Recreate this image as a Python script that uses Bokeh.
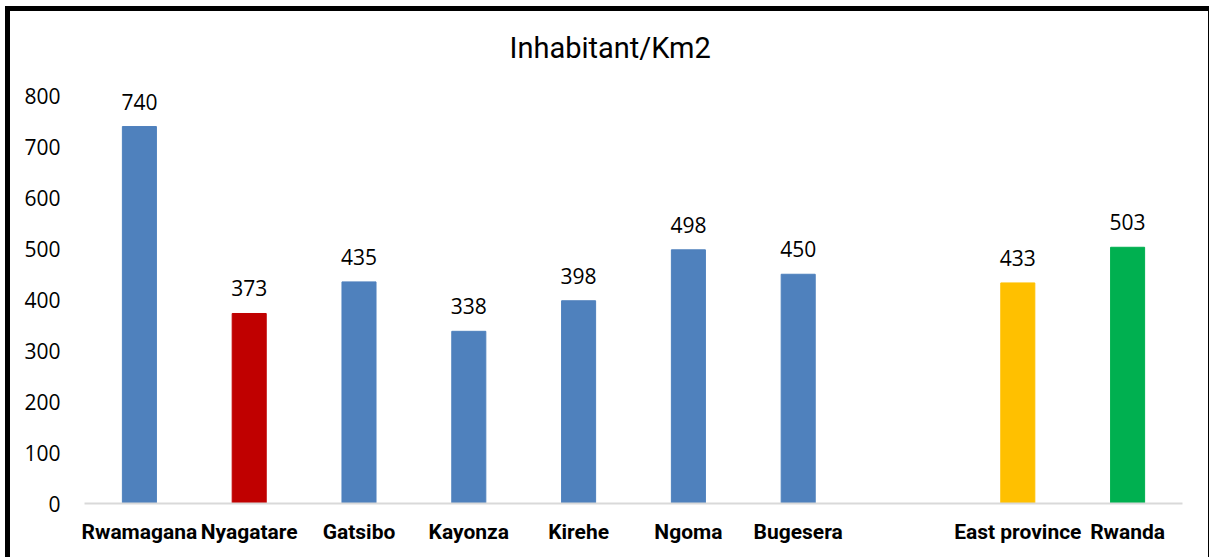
from bokeh.plotting import figure
from bokeh.models import ColumnDataSource, LabelSet, Range1d, FactorRange
from bokeh.core.properties import value
from bokeh.embed import file_html
from bokeh.resources import INLINE

categories = ["Rwamagana", "Nyagatare", "Gatsibo", "Kayonza", "Kirehe", "Ngoma",
              "Bugesera", " ", "East province", "Rwanda"]
bar_categories = ["Rwamagana", "Nyagatare", "Gatsibo", "Kayonza", "Kirehe", "Ngoma",
                  "Bugesera", "East province", "Rwanda"]
density = [740, 373, 435, 338, 398, 498, 450, 433, 503]
colors = ["#4F81BD", "#C00000", "#4F81BD", "#4F81BD", "#4F81BD", "#4F81BD",
          "#4F81BD", "#FFC000", "#00B050"]
y_ticks = [0, 100, 200, 300, 400, 500, 600, 700, 800]

src = ColumnDataSource(dict(x=bar_categories, y=density, c=colors,
                            lbl=[str(v) for v in density]))

p = figure(x_range=FactorRange(*categories, range_padding=0),
           y_range=Range1d(0, 850),
           width=1204, height=551, output_backend="svg", toolbar_location=None,
           title="Inhabitant/Km2",
           min_border_left=74, min_border_right=32, min_border_top=59,
           min_border_bottom=59)
p.styles = {"margin-left": "5px", "margin-top": "6px",
            "border-left": "5px solid black", "border-top": "5px solid black",
            "border-right": "1px solid black"}

p.title.align = "left"
p.title.offset = 425
p.title.text_font = "Roboto"
p.title.text_font_style = "normal"
p.title.text_font_size = "29px"
p.title.text_color = "#000000"
p.title.standoff = 11

p.vbar(x="x", top="y", width=0.31, source=src, fill_color="c",
       line_color="c", line_width=1)

labels = LabelSet(x="x", y="y", text="lbl", source=src, text_align="center",
                  text_baseline="bottom", y_offset=17, text_font=value("Open Sans"),
                  text_font_size="21px", text_color="#000000")
p.add_layout(labels)

p.outline_line_color = None
p.xgrid.grid_line_color = None
p.ygrid.grid_line_color = None

p.yaxis.ticker = y_ticks
p.yaxis.axis_line_color = None
p.yaxis.major_tick_line_color = None
p.yaxis.minor_tick_line_color = None
p.yaxis.major_label_text_font = "Open Sans"
p.yaxis.major_label_text_font_size = "21px"
p.yaxis.major_label_text_color = "#000000"
p.yaxis.major_label_standoff = 18

p.xaxis.axis_line_color = "#D9D9D9"
p.xaxis.axis_line_width = 2
p.xaxis.major_tick_line_color = None
p.xaxis.minor_tick_line_color = None
p.xaxis.major_label_text_font = "Roboto"
p.xaxis.major_label_text_font_style = "bold"
p.xaxis.major_label_text_font_size = "21px"
p.xaxis.major_label_text_color = "#000000"
p.xaxis.major_label_standoff = 10

open("out.html", "w").write(file_html(p, INLINE))
